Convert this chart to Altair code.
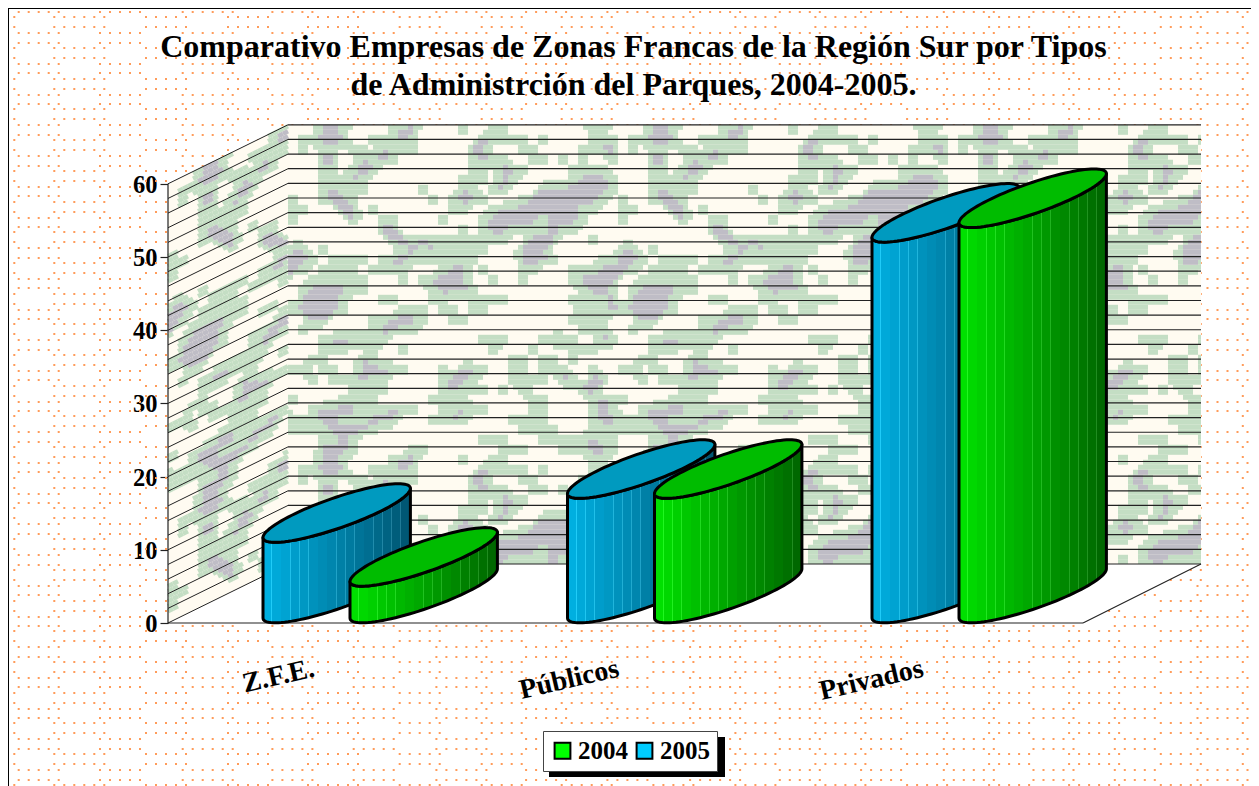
import math
import altair as alt
import pandas as pd

# ---------- chart data ----------
categories = ["Z.F.E.", "Públicos", "Privados"]
series = ["2005", "2004"]
values_2004 = [5, 17, 54]
values_2005 = [11, 17, 52]
y_ticks = [0, 10, 20, 30, 40, 50, 60]
title_lines = ["Comparativo Empresas de Zonas Francas de la Región Sur por Tipos",
               "de Administrción del Parques, 2004-2005."]

# wall texture, one tile: . none, g green, p grey
tile = [
"...ppg....gpp....g..gg........gg.",
".ggppp..gggpg......pgggg.g....ggg",
".g.gg.pg.pggg.....pp...gg....ggpp",
"...pp..pgpg.......gpgg..gg.g.g..g",
"...gg.gpp.........gg.ppg....gggg.",
"...gggpg.........ggg.pg.....gpppg",
"...gpggg.....g...pg.gp...pppppppg",
"g..gppg.......g.gppg...gpppppppg.",
"gg...pp.g.......gg..gppppppppgg..",
"g.....p..gg....g...gpppppgpppg...",
".........pp......g.gppggggpgg....",
"..........ppgpgggggggg..ppp...g..",
"pp.g.......gpgpggggg...ppp.......",
"ppg.gggg.gppggggggg....pppg....gg",
"pg.ggpg.gggg...gpp.g...gg...gggpp",
"..gggggg...g.gpppp..g..g....gpppp",
".gppppgg......gpppg..........gppg",
".ppppg...gg...gg..gggp......ggggp",
"gppppg.....ggg.gg.gg.........pggp",
"..pp....ggpppg..gg..........gggg.",
".p......gppgg................gpg.",
"...gppppgg.........ggp...gppg..pp",
"...ggg..p..g........g...g...ggg..",
"..gg...pg.............gg.gg.g....",
"gp.gg..ppppg...g.ppg..gg.ggg..g..",
"..g.gggpgg.....gppg...gggg.pp.pp.",
"......gggg.....gpggg.g.p.....pp..",
"g....gggg.....gggg......gg....gpg",
"..gppppgggpgg..ggpgg....gg....gpg",
"gggppgggppp...ggpg....gggg....gpp",
"ggggppppg..............gggg...ggg",
"...ggpg............ggg...gggggpgg",
"...pppg.....gg.......ggg...gggppg",
]

# ---------- layout ----------
W, H = 1243, 778
PX = 7.32                # pixels per unit of value
ZERO = 615               # chart y of value 0
LEFT, BACK, FRONT_R, BACK_R = 160, 280, 1075, 1193
DEPTH = (623 - 564) / PX
GROUP_STEP = 304.5
BAR_X0 = 255
SERIES_STEP = 87
R, K, HH = 73.7, 0.333, 16.0   # half width, tilt and half thickness of a bar's top

yscale = alt.Scale(domain=[(ZERO - H) / PX, ZERO / PX], range=[H, 0], nice=False, zero=False)
xscale = alt.Scale(domain=[-BAR_X0 / GROUP_STEP, (W - BAR_X0) / GROUP_STEP], range=[0, W],
                   nice=False, zero=False)
SERIF = "Liberation Serif"


def px(f):
    return alt.X(f + ":Q", scale=None, axis=None)


def py(f):
    return alt.Y(f + ":Q", scale=None, axis=None)


def vy(f):
    return alt.Y(f + ":Q", scale=yscale, axis=None)


# ---------- background dots ----------
def dash(groups, period):
    out = []
    seq = []
    for start, n in groups:
        seq += [start + 10 * i for i in range(n)]
    for a, b in zip(seq, seq[1:] + [period + seq[0]]):
        out += [2, round(b - a - 2, 2)]
    return out


PERIOD = 253.7
rows_a, rows_b = [], []
for n in range(-1, 27):
    for off, tgt in ((33.3, rows_a), (42.7, rows_a), (17.3, rows_b), (27.3, rows_b)):
        y = off + 30.7 * n - 8
        if 1 < y < H:
            tgt.append({"y": round(y), "x": 0, "x2": W})


def dots(rows, groups, first):
    return alt.Chart(pd.DataFrame(rows)).mark_rule(
        color="#ff9c5a", strokeWidth=2,
        strokeDash=dash(groups, PERIOD), strokeDashOffset=PERIOD - first
    ).encode(x=px("x"), x2="x2:Q", y=py("y"))


layers = []

# hidden points that carry the legend; the walls cover them
legend_df = pd.DataFrame({"serie": ["2004", "2005"], "x": [600, 640], "y": [300, 300]})
layers.append(alt.Chart(legend_df).mark_square(size=50).encode(
    x=px("x"), y=py("y"),
    color=alt.Color("serie:N",
                    scale=alt.Scale(domain=["2004", "2005"], range=["#00ff00", "#00ccff"]),
                    legend=alt.Legend(orient="none", legendX=535, legendY=723, direction="horizontal",
                                      columns=2, title=None, fillColor="white", strokeColor="#444444",
                                      padding=7, symbolType="square", symbolSize=250, symbolOpacity=1,
                                      symbolStrokeColor="black", symbolStrokeWidth=2,
                                      labelFont=SERIF, labelFontSize=25, labelFontWeight="bold",
                                      labelColor="black", labelOffset=3, columnPadding=4,
                                      symbolOffset=0)),
))

layers.append(dots(rows_a, [(0, 5), (81.3, 5), (164, 6)], 9.7))
layers.append(dots(rows_b, [(0, 6), (91.7, 5), (173.7, 5)], 45.3))

# chart frame (top and left)
layers.append(alt.Chart(pd.DataFrame({"x": [0], "x2": [W], "y": [0]})).mark_rule(color="black", strokeWidth=2)
              .encode(x=px("x"), x2="x2:Q", y=py("y")))
layers.append(alt.Chart(pd.DataFrame({"x": [0], "y": [0], "y2": [H]})).mark_rule(color="black", strokeWidth=2)
              .encode(x=px("x"), y=py("y"), y2="y2:Q"))

# ---------- walls ----------
CREAM = "#fffbf1"
top_v = 60
left_wall = pd.DataFrame({"x": [LEFT, BACK], "y": [0, DEPTH], "y2": [top_v, top_v + DEPTH]})
back_wall = pd.DataFrame({"x": [BACK, BACK_R], "y": [DEPTH, DEPTH], "y2": [top_v + DEPTH, top_v + DEPTH]})
for d in (left_wall, back_wall):
    layers.append(alt.Chart(d).mark_area(color=CREAM).encode(x=px("x"), y=vy("y"), y2="y2:Q"))

# texture: the tile at twice its resolution, softened so the blotches lose their blocks
LEVEL = {".": 0.0, "g": 1.0, "p": 2.0}
nrow, ncol = len(tile), max(len(t) for t in tile)
coarse = [[LEVEL[(t + "." * ncol)[c]] for c in range(ncol)] for t in tile]
fine_r, fine_c = nrow * 2, ncol * 2
fine = []
for r in range(fine_r):
    line = []
    for c in range(fine_c):
        acc = 0.0
        wsum = 0.0
        for dr in (-1, 0, 1):
            for dc in (-1, 0, 1):
                w = 4 if dr == 0 and dc == 0 else (2 if dr == 0 or dc == 0 else 1)
                acc += w * coarse[((r + dr) // 2) % nrow][((c + dc) // 2) % ncol]
                wsum += w
        a = acc / wsum
        line.append("p" if a >= 1.6 else ("g" if a >= 0.5 else "."))
    fine.append(line)

wall_top = ZERO - (top_v + DEPTH) * PX
wall_bot = ZERO - DEPTH * PX
CELL = 5
cells = {"g": [], "p": []}
slants = {"g": [], "p": []}
for r in range(int((wall_bot - wall_top) / CELL) + 1):
    row = fine[r % fine_r]
    ncols_back = int((BACK_R - BACK) / CELL) + 1
    c = 0
    while c < ncols_back:
        k = row[c % fine_c]
        e = c + 1
        while e < ncols_back and row[e % fine_c] == k:
            e += 1
        if k in cells:
            cells[k].append({"x": BACK + c * CELL, "x2": min(BACK + e * CELL, BACK_R),
                             "y": wall_top + r * CELL, "y2": min(wall_top + (r + 1) * CELL, wall_bot)})
        c = e
    # left wall: same tile sheared along the wall's slope
    y0 = ZERO - top_v * PX + r * CELL + CELL / 2
    if y0 < ZERO + 60:
        for c in range(24):
            k = row[c]
            if k in slants:
                yy = y0 - c * CELL / 2
                if yy < ZERO - (c + 1) * CELL * .5:
                    slants[k].append({"x": LEFT + c * CELL, "x2": LEFT + (c + 1) * CELL,
                                      "y": yy, "y2": yy - CELL / 2})
TEX = {"g": "#c4dec4", "p": "#bfbdc6"}
for k in ("g", "p"):
    layers.append(alt.Chart(pd.DataFrame(cells[k])).mark_rect(color=TEX[k])
                  .encode(x=px("x"), x2="x2:Q", y=py("y"), y2="y2:Q"))
    layers.append(alt.Chart(pd.DataFrame(slants[k])).mark_rule(color=TEX[k], strokeWidth=4.6)
                  .encode(x=px("x"), x2="x2:Q", y=py("y"), y2="y2:Q"))

# floor
floor = pd.DataFrame({"x": [LEFT, BACK, FRONT_R, BACK_R],
                      "y": [0, 0, 0, DEPTH], "y2": [0, DEPTH, DEPTH, DEPTH]})
layers.append(alt.Chart(floor).mark_area(color="white").encode(x=px("x"), y=vy("y"), y2="y2:Q"))

# grid on the walls, every two units
grid_v = list(range(0, 62, 2))
grid_back = pd.DataFrame({"x": BACK, "x2": BACK_R, "v": [v + DEPTH for v in grid_v]})
grid_left = pd.DataFrame({"x": LEFT, "x2": BACK, "v": grid_v, "v2": [v + DEPTH for v in grid_v]})
layers.append(alt.Chart(grid_back).mark_rule(color="#222222", strokeWidth=1.2)
              .encode(x=px("x"), x2="x2:Q", y=vy("v")))
layers.append(alt.Chart(grid_left).mark_rule(color="#222222", strokeWidth=1)
              .encode(x=px("x"), x2="x2:Q", y=vy("v"), y2="v2:Q"))
frame = pd.DataFrame([
    {"x": LEFT, "x2": LEFT, "v": 0, "v2": top_v},
    {"x": LEFT, "x2": FRONT_R, "v": 0, "v2": 0},
    {"x": FRONT_R, "x2": BACK_R, "v": 0, "v2": DEPTH},
])
layers.append(alt.Chart(frame).mark_rule(color="#222222", strokeWidth=1.2)
              .encode(x=px("x"), x2="x2:Q", y=vy("v"), y2="v2:Q"))

# y axis, carried by an invisible layer on the value scale
layers.append(alt.Chart(pd.DataFrame({"v": y_ticks})).mark_point(opacity=0).encode(
    y=alt.Y("v:Q", scale=yscale,
            axis=alt.Axis(values=y_ticks, title=None, grid=False, domain=False, offset=-LEFT,
                          tickSize=8, tickColor="#222222", tickWidth=1.2, labelPadding=3,
                          labelOffset=1.5, labelFont=SERIF, labelFontSize=24.5, labelFontWeight="bold",
                          labelColor="black", format="d")),
    x=alt.value(LEFT),
))


# ---------- bars ----------
def shade(c0, c1, t):
    return "#" + "".join(f"{round(a + (b - a) * t):02x}" for a, b in zip(c0, c1))


def stripes(c0, c1, n=16):
    stops = []
    for i in range(n):
        t0, t1 = i / n, (i + 1) / n
        col = shade(c0, c1, t0 + .5 / n)
        stops.append(alt.GradientStop(offset=t0, color=col))
        stops.append(alt.GradientStop(offset=t1 - .005, color=col))
        lite = shade(tuple(min(255, v + 32) for v in c0), tuple(min(255, v + 32) for v in c1), t1)
        stops.append(alt.GradientStop(offset=t1 - .005, color=lite))
        stops.append(alt.GradientStop(offset=t1, color=lite))
    return alt.Gradient(gradient="linear", x1=0, y1=0, x2=1, y2=0, stops=stops)


SKINS = {
    "2005": (stripes((0, 178, 228), (0, 84, 112)), "#009abf"),
    "2004": (stripes((0, 228, 0), (0, 100, 0)), "#00bc00"),
}
MID = (623 - 593.5) / PX    # the bar stands half way into the floor's depth
N = 48


def bar_frame(i, s, v):
    rows = []
    for j in range(N + 1):
        dx = -R * math.cos(math.pi * j / N)
        h = HH * math.sqrt(max(0, 1 - (dx / R) ** 2))
        left = i + (s * SERIES_STEP + R + dx) / GROUP_STEP
        rows.append({
            "x": left,
            "base": MID + (K * dx - h) / PX,
            "low": v + MID + (K * dx - h) / PX,
            "high": v + MID + (K * dx + h) / PX,
        })
    return pd.DataFrame(rows)


for i, cat in enumerate(categories):
    for s, name in enumerate(series):
        v = (values_2005 if name == "2005" else values_2004)[i]
        d = bar_frame(i, s, v)
        grad, top = SKINS[name]
        layers.append(alt.Chart(d).mark_area(fill=grad, stroke="black", strokeWidth=3, strokeJoin="round")
                      .encode(x=alt.X("x:Q", scale=xscale, axis=None), y=vy("low"), y2="base:Q"))
        layers.append(alt.Chart(d).mark_area(fill=top, stroke="black", strokeWidth=3, strokeJoin="round")
                      .encode(x=alt.X("x:Q", scale=xscale, axis=None), y=vy("high"), y2="low:Q"))

# category labels
cat_df = pd.DataFrame({"cat": categories, "x": [i + 51 / GROUP_STEP for i in range(3)], "v": -6.2})
layers.append(alt.Chart(cat_df).mark_text(font=SERIF, fontSize=28, fontWeight="bold", color="black",
                                          angle=347, align="right", baseline="middle")
              .encode(x=alt.X("x:Q", scale=xscale, axis=None), y=vy("v"), text="cat:N"))

# legend shadow
layers.append(alt.Chart(pd.DataFrame({"x": [541], "x2": [717], "y": [729], "y2": [769]})).mark_rect(color="black")
              .encode(x=px("x"), x2="x2:Q", y=py("y"), y2="y2:Q"))

chart = alt.layer(*layers).resolve_scale(x="independent", y="independent", color="independent").properties(
    width=W, height=H,
    autosize=alt.AutoSizeParams(type="none"),
    padding=0,
    background="white",
    title=alt.TitleParams(text=title_lines, anchor="middle", font=SERIF, fontSize=32, fontWeight="bold",
                          color="black", lineHeight=38, baseline="alphabetic", orient="top",
                          offset=0, dy=120, dx=4),
).configure_view(stroke=None)

chart.save("out.html", embed_options={"renderer": "svg", "actions": False})
